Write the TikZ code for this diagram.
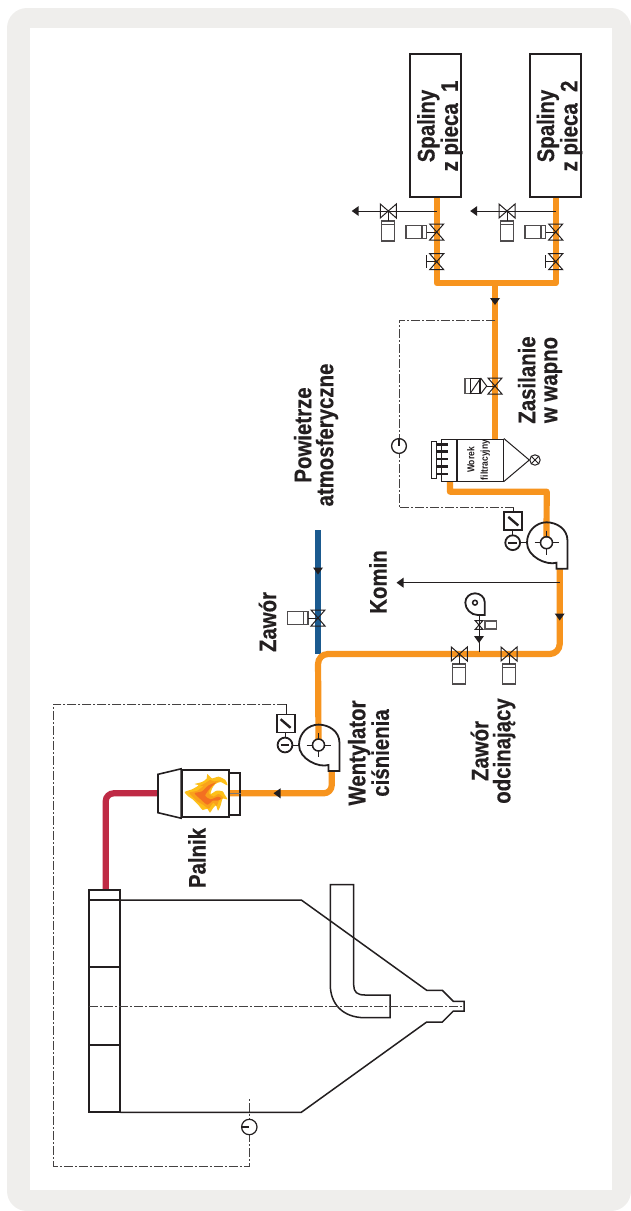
\documentclass[tikz,border=0pt]{standalone}
\usepackage{fontspec}
\newfontfamily\labf[FakeStretch=0.85,FakeBold=0.4]{Liberation Sans Bold}
\newfontfamily\labs[FakeStretch=0.85]{Liberation Sans Bold}
\definecolor{ink}{HTML}{231F20}
\definecolor{framegray}{HTML}{EFEEEC}
\definecolor{pipeor}{HTML}{F7941E}
\definecolor{pipebl}{HTML}{1B5A8F}
\definecolor{pipere}{HTML}{BF2A45}
\definecolor{flamea}{HTML}{FDC01A}
\definecolor{flameb}{HTML}{F9A11B}
\definecolor{flamec}{HTML}{F37021}
\tikzset{
  thinline/.style={draw=ink,line width=1pt},
  midline/.style={draw=ink,line width=1.8pt},
  signal/.style={draw=ink!85,line width=.85pt,dash pattern=on 9pt off 2pt on 2pt off 2pt},
  oranpipe/.style={draw=pipeor,line width=6.2pt,line join=round},
  bluepipe/.style={draw=pipebl,line width=6.2pt},
  redpipe/.style={draw=pipere,line width=6.2pt},
  sourcebox/.style={draw=ink,line width=2pt,fill=white,minimum width=50.5pt,minimum height=143pt,inner sep=0pt},
  biglabel/.style={font=\labf\fontsize{24}{22}\selectfont,text=ink,rotate=90,align=center,inner sep=0pt},
  smalllabel/.style={font=\labs\fontsize{10}{13.5}\selectfont,text=ink,rotate=90,align=center,inner sep=0pt},
  pics/bowv/.style={code={\draw[thinline] (-7,-8)--(7,8)--(-7,8)--(7,-8)--cycle;}},
  pics/bowh/.style={code={\draw[thinline] (-8,-7)--(8,7)--(8,-7)--(-8,7)--cycle;}},
  pics/actleft/.style={code={
    \draw[draw=ink!80,line width=1.1pt] (-30.7,-6.3) rectangle (-10,6.7);
    \draw[draw=ink!80,line width=1.1pt] (-14.7,-6.3)--(-14.7,6.7);
    \draw[thinline] (-10,0)--(0,0);}},
  pics/actdown/.style={code={
    \draw[draw=ink!80,line width=1.1pt] (-6.6,10) rectangle (6.6,30);
    \draw[draw=ink!80,line width=1.1pt] (-6.6,13.5)--(6.6,13.5);
    \draw[thinline] (0,0)--(0,10);}},
  pics/handle/.style={code={
    \draw[thinline] (0,0)--(-10.7,0) (-10.7,-6.3)--(-10.7,6.3);}},
  pics/tridown/.style={code={\fill[ink] (-5,-3.5)--(5,-3.5)--(0,3.5)--cycle;}},
  pics/trileft/.style={code={\fill[ink] (3.5,-5)--(3.5,5)--(-3.5,0)--cycle;}},
  pics/blower/.style={code={
    \draw[midline,line join=miter] (21,-2)--(21,26)--(10,26)--(10,20)
      .. controls (0,23) and (-19.5,14) .. (-19.5,0)
      .. controls (-19.5,-12) and (-10,-20.4) .. (0,-20.4)
      .. controls (10,-20.4) and (21,-14) .. (21,-2);
    \draw[thinline] (-12,0)--(12,0) (0,-12)--(0,12);
    \fill[white] (0,0) circle (5.4);
    \draw[draw=ink,line width=1.5pt] (0,0) circle (6);}},
  pics/fanctl/.style={code={
    \draw[midline] (0,0) circle (7.4);
    \draw[draw=ink,line width=2.4pt] (-4.4,0)--(4.4,0);
    \draw[thinline] (7.6,0)--(14,0);
    \draw[thinline] (0,-7.6)--(0,-12.5);
    \draw[midline] (-8.4,-30.5) rectangle (9.6,-12.5);
    \draw[draw=ink,line width=2.4pt] (-4.4,-25.8)--(5.6,-17.2);}},
  pics/gauge/.style={code={
    \draw[draw=ink,line width=1.2pt] (0,0) circle (7.7);
    \draw[draw=ink,line width=1.2pt] (-7.7,0)--(0,0);}},
}
\begin{document}
\begin{tikzpicture}[x=1pt,y=-1pt]
\useasboundingbox (0,0) rectangle (631,1211);
\fill[framegray,rounded corners=20pt] (7,8) rectangle (631,1211);
\fill[white] (30,28) rectangle (612,1190);

% junctions and free ends
\coordinate (j1) at (436.7,283);
\coordinate (j2) at (555.7,283);
\coordinate (j3) at (495,283);
\coordinate (filterin) at (495,439);
\coordinate (filterout) at (450,481);
\coordinate (f1a) at (450,491.7);
\coordinate (f1b) at (546.7,491.7);
\coordinate (fan1) at (546.5,542.7);
\coordinate (fan1out) at (559.7,568);
\coordinate (c1) at (559.7,654);
\coordinate (c2) at (318,654);
\coordinate (fan2) at (318.5,745);
\coordinate (fan2out) at (331.7,771);
\coordinate (c3) at (331.7,793.3);
\coordinate (burnin) at (229,793.3);
\coordinate (burnout) at (158,793.3);
\coordinate (c4) at (105.7,793.3);
\coordinate (furnin) at (105.7,889.7);
\coordinate (airin) at (318,530);

% source boxes
\node[sourcebox] (src1) at (435.5,125) {};
\node[sourcebox] (src2) at (555.5,125) {};

% pipes
\draw[oranpipe] (src1.south -| j1)--(j1)--(j2)--(src2.south -| j2);
\draw[oranpipe] (j3)--(filterin);
\draw[oranpipe] (filterout)--(f1a)--(f1b)--(fan1);
\draw[bluepipe] (airin)--(c2);
\draw[oranpipe,rounded corners=10pt] (fan2)--(c2)--(c1)--(fan1out);
\draw[oranpipe,rounded corners=8pt] (fan2out)--(c3)--(burnin);
\draw[redpipe,rounded corners=8pt] (burnout)--(c4)--(furnin);

% vent branches
\coordinate (vent1a) at (436.7,211);
\coordinate (vent1b) at (358,211);
\coordinate (vent2a) at (555.7,211);
\coordinate (vent2b) at (476,211);
\draw[thinline] (vent1a)--(vent1b);
\draw[thinline] (vent2a)--(vent2b);
\pic at (355.2,211) {trileft};
\pic at (473.7,211) {trileft};
\pic at (388.3,211) {bowh};
\pic at (388.3,211) {actdown};
\pic at (507,211) {bowh};
\pic at (507,211) {actdown};
\pic at (436.7,232) {bowv};
\pic at (436.7,232) {actleft};
\pic at (555.7,232) {bowv};
\pic at (555.7,232) {actleft};
\pic at (436.7,261.7) {bowv};
\pic at (436.7,261.7) {handle};
\pic at (555.7,261.7) {bowv};
\pic at (555.7,261.7) {handle};
\pic at (495,301.5) {tridown};

% lime feed valve
\pic at (495,386) {bowv};
\node[draw=ink!75,line width=1.1pt,minimum width=15pt,minimum height=14.5pt,inner sep=0pt] (limeact) at (472.5,386) {};
\node[draw=ink,line width=1.3pt,minimum width=9.5pt,minimum height=14.5pt,inner sep=0pt] (limesol) at (475.3,386) {};
\draw[thinline] (limesol.south west)--(limesol.north east);
\coordinate (limetip) at (486.7,386);
\draw[thinline] (limesol.north east)--(limetip)--(limesol.south east);
\draw[thinline] (limetip)--(495,386);

% bag filter
\node[draw=ink,line width=1pt,minimum width=62.3pt,minimum height=42pt,inner sep=0pt] (filter) at (472.2,460) {};
\draw[midline] (457,439)--(457,481);
\draw[thinline] (431.7,441.3) rectangle (436,478);
\draw[draw=ink,line width=2.8pt] (437,444.3)--(447.7,444.3) (437,451.7)--(447.7,451.7) (437,459)--(447.7,459) (437,466.7)--(447.7,466.7) (437,474)--(447.7,474);
\node[draw=ink,line width=1pt,circle,minimum size=10.4pt,inner sep=0pt,fill=white] (rotor) at (535,460) {};
\draw[thinline] (rotor.north west)--(rotor.south east) (rotor.north east)--(rotor.south west);
\draw[thinline] (filter.north east)--(rotor.west)--(filter.south east);
\node[smalllabel] (lfilter) at (478.5,460) {Worek\\filtracyjny};

% fan 1 and stack
\pic at (fan1) {blower};
\pic at (512.7,542.7) {fanctl};
\coordinate (kominb) at (559.7,582.7);
\coordinate (komine) at (403,582.7);
\draw[thinline] (kominb)--(komine);
\pic at (400,582.7) {trileft};
\pic at (559.7,617) {tridown};

% signal line 1
\coordinate (s1a) at (495,320);
\coordinate (s1b) at (399,320);
\coordinate (s1c) at (399,507.7);
\coordinate (s1d) at (513.7,507.7);
\coordinate (s1e) at (513.7,512);
\draw[signal] (s1a)--(s1b)--(s1c)--(s1d);
\draw[thinline] (s1d)--(s1e);
\fill[white] (399,446) circle (7.5);
\draw[draw=ink,line width=1.3pt] (399,446) circle (7.4);
\draw[draw=ink,line width=1.3pt] (399,438.6)--(399,446);

% small fan branch
\coordinate (bt) at (479,652);
\coordinate (bb) at (479,615);
\draw[thinline] (bt)--(bb);
\pic at (479,639.5) {tridown};
\pic[scale=.55] at (479,625) {bowv};
\node[draw=ink!75,line width=1.1pt,minimum width=11.7pt,minimum height=8pt,inner sep=0pt] (smallact) at (490.8,625) {};
\draw[midline] (484.7,602) -- (484.7,615) -- (477.7,615)
  .. controls (471,615) and (465.3,609) .. (465.3,602.7)
  .. controls (465.3,597) and (470,593.3) .. (475,593.3)
  .. controls (480,593.3) and (484.7,597) .. (484.7,602);
\draw[draw=ink,line width=1.5pt] (475,602.7) circle (2.4);

% main shut-off valves
\pic at (459.3,654) {bowh};
\pic at (459.3,654) {actdown};
\pic at (509,654) {bowh};
\pic at (509,654) {actdown};

% air valve
\pic at (318,618) {bowv};
\pic at (318,618) {actleft};
\pic at (318,571) {tridown};

% fan 2
\pic at (fan2) {blower};
\pic at (285,745) {fanctl};
\pic at (277,793.3) {trileft};

% signal line 2
\coordinate (s2a) at (286.3,714.7);
\coordinate (s2b) at (286.3,704);
\coordinate (s2c) at (53.7,704);
\coordinate (s2d) at (53.7,1166.3);
\coordinate (s2e) at (249.3,1166.3);
\coordinate (s2f) at (249.3,1097.3);
\draw[thinline] (s2a)--(s2b);
\draw[signal] (s2b)--(s2c)--(s2d)--(s2e)--(s2f);

% burner
\node[draw=ink,line width=1.8pt,minimum width=11.3pt,minimum height=42pt,inner sep=0pt] (burnback) at (234.7,793.7) {};
\draw[draw=ink!60,line width=.8pt] (burnin)--(burnback.east |- burnin);
\node[draw=ink,line width=1.8pt,fill=white,minimum width=47pt,minimum height=47.6pt,inner sep=0pt] (burnmain) at (205.5,793.5) {};
\draw[draw=ink,line width=1.6pt,fill=white,line join=miter] (burnmain.north west)--(158,774.3)--(158,812.7)--(burnmain.south west)--cycle;
\begin{scope}[shift={(150,760)},x=.3333pt,y=-.3333pt]
\fill[flamea] plot[smooth cycle,tension=.4] coordinates {(104,96) (126,88) (146,76) (134,72) (156,66) (170,56) (172,42) (186,55) (206,50) (226,60) (232,76) (212,66) (196,72) (186,86) (182,102) (200,92) (218,94) (224,104) (232,118) (218,116) (212,136) (204,152) (198,136) (188,146) (180,158) (172,146) (158,150) (146,136) (128,118) (116,110)};
\fill[flameb] plot[smooth cycle,tension=.4] coordinates {(118,98) (142,92) (160,78) (150,78) (168,68) (180,60) (192,64) (212,62) (194,70) (180,88) (176,100) (190,110) (206,102) (220,114) (208,120) (200,138) (190,128) (176,146) (162,136) (142,124) (128,110)};
\fill[flamec] plot[smooth cycle,tension=.45] coordinates {(134,100) (156,94) (176,76) (198,68) (184,80) (170,98) (166,108) (182,118) (204,110) (214,116) (202,122) (188,122) (172,134) (152,118)};
\end{scope}

% furnace
\node[draw=ink,line width=2pt,minimum width=31.3pt,minimum height=222.6pt,inner sep=0pt] (header) at (104.65,1001) {};
\draw[midline] (header.west |- 0,900)--(header.east |- 0,900);
\draw[midline] (header.west |- 0,967)--(header.east |- 0,967);
\draw[midline] (header.west |- 0,1044.7)--(header.east |- 0,1044.7);
\draw[draw=ink,line width=1.5pt,line join=miter] (120.3,900)--(301.3,900)--(426.7,990.3)--(442.3,990.3)--(453.3,1001.3)--(464,1001.3)--(464,1011)--(453.3,1011)--(442.3,1022)--(426.7,1022)--(301.3,1112.3)--(120.3,1112.3);
\draw[draw=ink,line width=1.5pt] (353.7,884.7)--(353.7,985) .. controls (353.7,992) and (357,995) .. (365,995)--(390,995)--(390,1017.7)--(365,1017.7) .. controls (342,1017.7) and (330.3,1003) .. (330.3,985)--(330.3,884.7)--cycle;
\draw[signal] (89,1006)--(464,1006);
\fill[white] (249.3,1127) circle (7.7);
\pic at (249.3,1127) {gauge};

% labels
\node[biglabel] (lsrc1) at (440,126) {Spaliny\\z pieca\ \ 1};
\node[biglabel] (lsrc2) at (559.5,126) {Spaliny\\z pieca\ \ 2};
\node[biglabel] (lzas) at (540,380) {Zasilanie\\w wapno};
\node[biglabel] (lpow) at (316,435) {Powietrze\\atmosferyczne};
\node[biglabel] (lkom) at (378,582) {Komin};
\node[biglabel] (lzaw) at (267.5,622) {Zawór};
\node[biglabel] (lwen) at (368.5,753) {Wentylator\\ciśnienia};
\node[biglabel] (lodc) at (493,751) {Zawór\\odcinający};
\node[biglabel] (lpal) at (197,858) {Palnik};
\end{tikzpicture}
\end{document}
